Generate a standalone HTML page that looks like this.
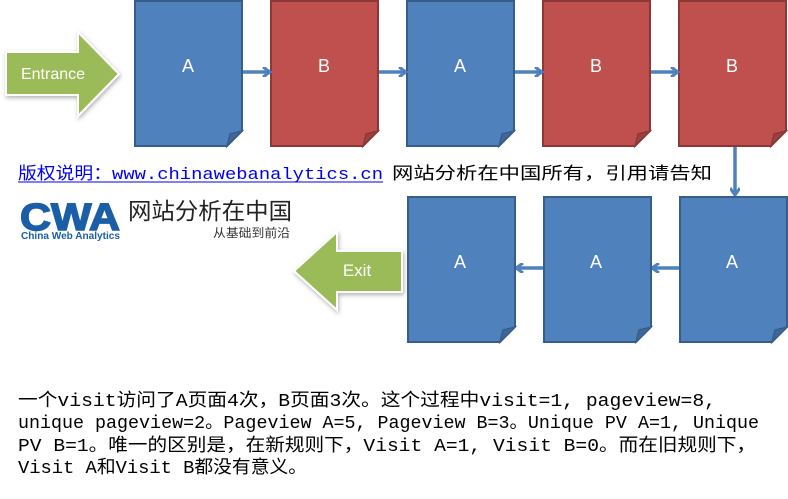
<!DOCTYPE html>
<html><head><meta charset="utf-8"><style>
html,body{margin:0;padding:0;background:#fff;width:788px;height:499px;overflow:hidden}
svg{display:block}
.s{font-family:"Liberation Sans","Noto Sans CJK SC",sans-serif}
.m{font-family:"Liberation Mono","Noto Sans CJK SC",monospace}
</style></head><body>
<svg width="788" height="499" viewBox="0 0 788 499" xmlns="http://www.w3.org/2000/svg">
<defs>
<filter id="sh" x="-20%" y="-20%" width="140%" height="140%"><feDropShadow dx="1" dy="2" stdDeviation="2" flood-color="#000" flood-opacity="0.3"/></filter>
<marker id="ah" markerWidth="10" markerHeight="10" refX="7" refY="5" orient="auto" markerUnits="userSpaceOnUse"><path d="M1,0 L8,5 L1,10" fill="none" stroke="#4f81bd" stroke-width="3"/></marker>
<g id="pa"><path d="M0,0 H107 V130 L92,145 H0 Z" fill="#4f81bd" stroke="#385d8a" stroke-width="2"/><path d="M107,130 L92,145 L95,133 Z" fill="#3f6797" stroke="#385d8a" stroke-width="1.5"/></g>
<g id="pb"><path d="M0,0 H107 V130 L92,145 H0 Z" fill="#c0504d" stroke="#8c3836" stroke-width="2"/><path d="M107,130 L92,145 L95,133 Z" fill="#9a403d" stroke="#8c3836" stroke-width="1.5"/></g>
</defs>
<path d="M6,52 H78 V32 L119,74 L78,116 V95 H6 Z" fill="#9bbb59" stroke="#fff" stroke-width="2" filter="url(#sh)"/>
<text class="s" x="53" y="79" font-size="16" fill="#fff" text-anchor="middle">Entrance</text>
<use href="#pa" x="135" y="1"/><use href="#pb" x="271" y="1"/><use href="#pa" x="407" y="1"/><use href="#pb" x="543" y="1"/><use href="#pb" x="679" y="1"/>
<g class="s" font-size="18" fill="#fff" text-anchor="middle">
<text x="188" y="72">A</text><text x="324" y="72">B</text><text x="460" y="72">A</text><text x="596" y="72">B</text><text x="732" y="72">B</text>
</g>
<g stroke="#4f81bd" stroke-width="3.5" marker-end="url(#ah)">
<line x1="243" y1="72" x2="269" y2="72"/><line x1="379" y1="72" x2="405" y2="72"/><line x1="515" y1="72" x2="541" y2="72"/><line x1="651" y1="72" x2="677" y2="72"/>
<line x1="735" y1="147" x2="735" y2="194"/>
<line x1="680" y1="268" x2="653" y2="268"/><line x1="544" y1="268" x2="517" y2="268"/>
</g>
<use href="#pa" x="408" y="197"/><use href="#pa" x="544" y="197"/><use href="#pa" x="680" y="197"/>
<g class="s" font-size="18" fill="#fff" text-anchor="middle">
<text x="460" y="268">A</text><text x="596" y="268">A</text><text x="732" y="268">A</text>
</g>
<path d="M402,251 H337 V232 L294,271 L337,310 V292 H402 Z" fill="#9bbb59" stroke="#fff" stroke-width="2" filter="url(#sh)"/>
<text class="s" x="357" y="276" font-size="17" fill="#fff" text-anchor="middle">Exit</text>
<text x="18" y="179" font-size="17" class="m" fill="#0000ee" textLength="365" lengthAdjust="spacingAndGlyphs">版权说明：www.chinawebanalytics.cn</text>
<line x1="18" y1="182" x2="383" y2="182" stroke="#0000ee" stroke-width="1"/>
<text x="392" y="179" font-size="17" class="m" fill="#000" textLength="320" lengthAdjust="spacingAndGlyphs">网站分析在中国所有，引用请告知</text>
<text class="s" x="20" y="230" font-size="38" font-weight="900" fill="#1a5ea8" stroke="#1a5ea8" stroke-width="1.5" textLength="100" lengthAdjust="spacingAndGlyphs">CWA</text>
<text class="s" x="21" y="239" font-size="10" font-weight="bold" fill="#1a5ea8" textLength="99" lengthAdjust="spacingAndGlyphs">China Web Analytics</text>
<text class="s" x="128" y="219" font-size="23" fill="#222" textLength="164" lengthAdjust="spacingAndGlyphs">网站分析在中国</text>
<text class="s" x="213" y="237" font-size="12" fill="#333" textLength="77" lengthAdjust="spacingAndGlyphs">从基础到前沿</text>
<g font-size="18" fill="#000">
<text class="m" x="18" y="406" textLength="698" lengthAdjust="spacingAndGlyphs">一个visit访问了A页面4次，B页面3次。这个过程中visit=1, pageview=8,</text>
<text class="m" x="18" y="428" textLength="741" lengthAdjust="spacingAndGlyphs">unique pageview=2。Pageview A=5,  Pageview B=3。Unique PV A=1, Unique</text>
<text class="m" x="18" y="451" textLength="738" lengthAdjust="spacingAndGlyphs">PV B=1。唯一的区别是，在新规则下，Visit A=1, Visit B=0。而在旧规则下，</text>
<text class="m" x="18" y="473" textLength="289" lengthAdjust="spacingAndGlyphs">Visit A和Visit B都没有意义。</text>
</g>
</svg>
</body></html>
